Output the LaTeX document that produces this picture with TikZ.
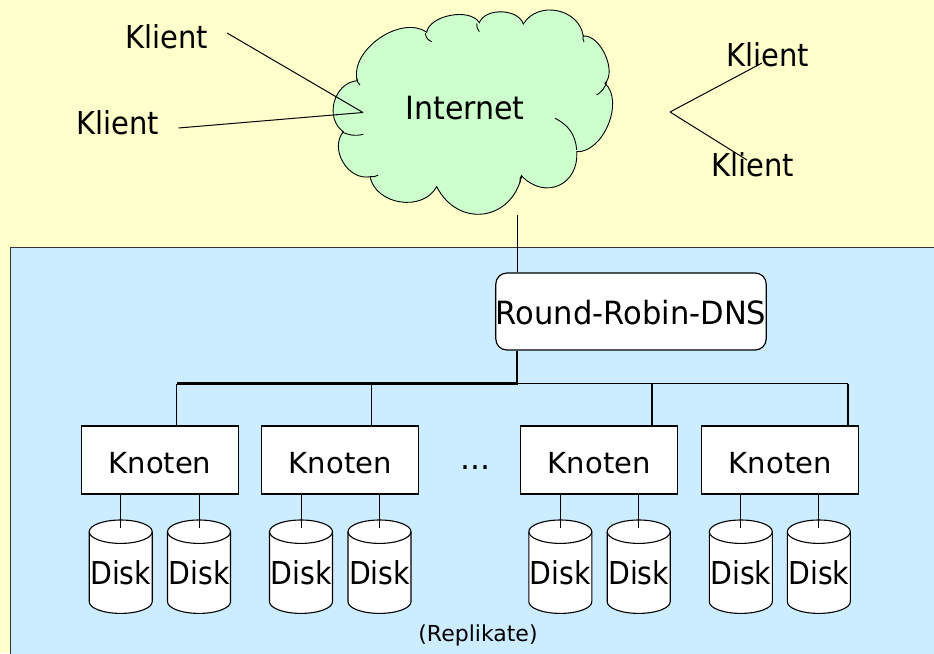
\documentclass[tikz,border=0pt]{standalone}
\usepackage{fontspec}
\setmainfont{DejaVu Sans}
\usepackage{graphicx}
\definecolor{paper}{HTML}{FFFFCC}
\definecolor{lan}{HTML}{CCECFF}
\definecolor{net}{HTML}{CCFFCC}
\definecolor{edge}{HTML}{333333}
% horizontally condensed text
\newcommand\narrow[2]{\scalebox{#1}[1]{#2}}

\begin{document}
\begin{tikzpicture}[x=1pt,y=1pt,
  txt/.style={inner sep=0pt, font=\fontsize{31.5}{36}\selectfont},
  klient/.style={txt, inner xsep=19pt, text height=23pt, text depth=0pt},
  knoten/.style={draw=black, line width=1.2pt, fill=white, minimum width=157pt,
    minimum height=68pt, inner sep=0pt, font=\fontsize{29}{34}\selectfont,
    text height=26.2pt, text depth=0pt},
  dnsbox/.style={draw=black, line width=1.2pt, fill=white, rounded corners=11pt,
    minimum width=268pt, minimum height=77pt, inner sep=0pt,
    font=\fontsize{32}{36}\selectfont, text height=26.8pt, text depth=0pt},
  disk/.style={minimum width=66pt, minimum height=96pt, inner sep=0pt,
    font=\fontsize{31.5}{36}\selectfont, text height=36.2pt, text depth=0pt,
    path picture={
      \draw[line width=1.1pt, fill=white]
        ([shift={(1.5pt,-13pt)}]path picture bounding box.north west)
        -- ([shift={(1.5pt,13pt)}]path picture bounding box.south west)
        arc[start angle=180, end angle=360, x radius=31.5pt, y radius=11.7pt]
        -- ([shift={(-1.5pt,-13pt)}]path picture bounding box.north east)
        arc[start angle=0, end angle=180, x radius=31.5pt, y radius=11.7pt]
        -- cycle;
      \draw[line width=1.1pt]
        ([shift={(1.5pt,-13pt)}]path picture bounding box.north west)
        arc[start angle=180, end angle=360, x radius=31.5pt, y radius=11.7pt];
    }},
  wire/.style={line width=1.3pt},
  bus/.style={line width=2.2pt},
  thin wire/.style={line width=1pt},
  puff/.style={line width=0.9pt},
]
\useasboundingbox (0,0) rectangle (934,-653);
\clip (0,0) rectangle (934,-653);

% backgrounds
\fill[paper] (0,0) rectangle (934,-653);
\draw[edge, line width=1.1pt, fill=lan] (10.5,-247.5) rectangle (950,-670);

% Internet cloud
\draw[puff, fill=net]
  (357.3,-80.7)
  to[bend left=70, looseness=0.95] (426.7,-32.3)
  to[bend left=70, looseness=0.84] (479.3,-22.7)
  to[bend left=70, looseness=0.95] (523.3,-24)
  to[bend left=70, looseness=1.17] (583.3,-36)
  to[bend left=70, looseness=0.84] (605,-83.3)
  to[bend left=70, looseness=0.92] (576.7,-151.7)
  to[bend left=70, looseness=1.43] (521.7,-176)
  to[bend left=70, looseness=1.39] (436.7,-186.7)
  to[bend left=70, looseness=1.1] (370,-176.7)
  to[bend left=70, looseness=1.1] (343.3,-131.7)
  to[bend left=70, looseness=1.14] cycle;
% inner creases of the cloud
\draw[puff] (425.3,-33.3) to[bend right=30] (431.7,-41.7);
\draw[puff] (476.7,-23.3) to[bend right=20] (479.3,-31.7);
\draw[puff] (583.3,-35) to[bend right=20] (584,-42);
\draw[puff] (606.7,-81.7) to[bend left=20] (596.7,-95);
\draw[puff] (555,-118.3) to[bend left=30] (576.7,-150);
\draw[puff] (521.7,-175) to[bend right=20] (520,-183);
\draw[puff] (370,-176.7) to[bend right=20] (378.3,-175);
\draw[puff] (341.7,-131.7) to[bend right=20] (363.3,-134.3);
\draw[puff] (356.7,-78.3) to[bend right=20] (360,-85);

\node[txt, text height=23.3pt, text depth=0pt, font=\fontsize{32}{36}\selectfont]
  (inet) at (465,-108.3) {\narrow{0.94}{Internet}};

% clients
\node[klient] (k1) at (166.5,-36.5) {\narrow{0.92}{Klient}};
\node[klient] (k2) at (118,-122.5) {\narrow{0.92}{Klient}};
\node[klient] (k3) at (768,-55) {\narrow{0.92}{Klient}};
\node[klient] (k4) at (753,-165) {\narrow{0.92}{Klient}};
\coordinate (hubL) at (363,-112.5);
\coordinate (hubR) at (670,-112);
\draw[thin wire] ([yshift=3.5pt]k1.east) -- (hubL);
\draw[thin wire] ([yshift=-5.5pt]k2.east) -- (hubL);
\draw[thin wire] (hubR) -- ([shift={(-6pt,-8pt)}]k3.center);
\draw[thin wire] (hubR) -- ([shift={(-6pt,5pt)}]k4.center);

% DNS and distribution bus
\node[dnsbox] (dns) at (631,-311.5) {\narrow{0.955}{Round-Robin-DNS}};
\coordinate (netlink) at (517,-215);
\coordinate (tap1) at (176.7,-383.5);
\coordinate (tap2) at (371.7,-383.5);
\coordinate (tap3) at (652,-383.5);
\coordinate (tap4) at (848,-383.5);

% server nodes
\node[knoten] (kn1) at (160,-460) {Knoten};
\node[knoten] (kn2) at (340.3,-460) {Knoten};
\node[knoten] (kn3) at (599.3,-460) {Knoten};
\node[knoten] (kn4) at (780.3,-460) {Knoten};
\node[txt, anchor=base] (dots) at (475.5,-469) {...};

\draw[thin wire] (netlink) -- (netlink |- dns.north);
\draw[bus] (netlink |- dns.south) -- (netlink |- tap1) -- (tap1);
\draw[wire] (netlink |- tap1) -- (tap4);
\foreach \t in {1,...,4}
  \draw[wire] (tap\t) -- (tap\t |- kn\t.north);

% disks
\foreach \i/\x in {1/120.7,2/199,3/301,4/379.5,5/560.3,6/638.7,7/740.8,8/818.8}
  \node[disk] (d\i) at (\x,-566.7) {\narrow{0.9}{Disk}};
\foreach \d/\k in {1/1,2/1,3/2,4/2,5/3,6/3,7/4,8/4}
  \draw[thin wire] (kn\k.south -| d\d) -- ([yshift=-9.6pt]d\d.north);

\node[txt, font=\fontsize{22}{26}\selectfont, text height=16.7pt, text depth=2.9pt]
  (rep) at (478,-635) {(Replikate)};
\end{tikzpicture}
\end{document}
